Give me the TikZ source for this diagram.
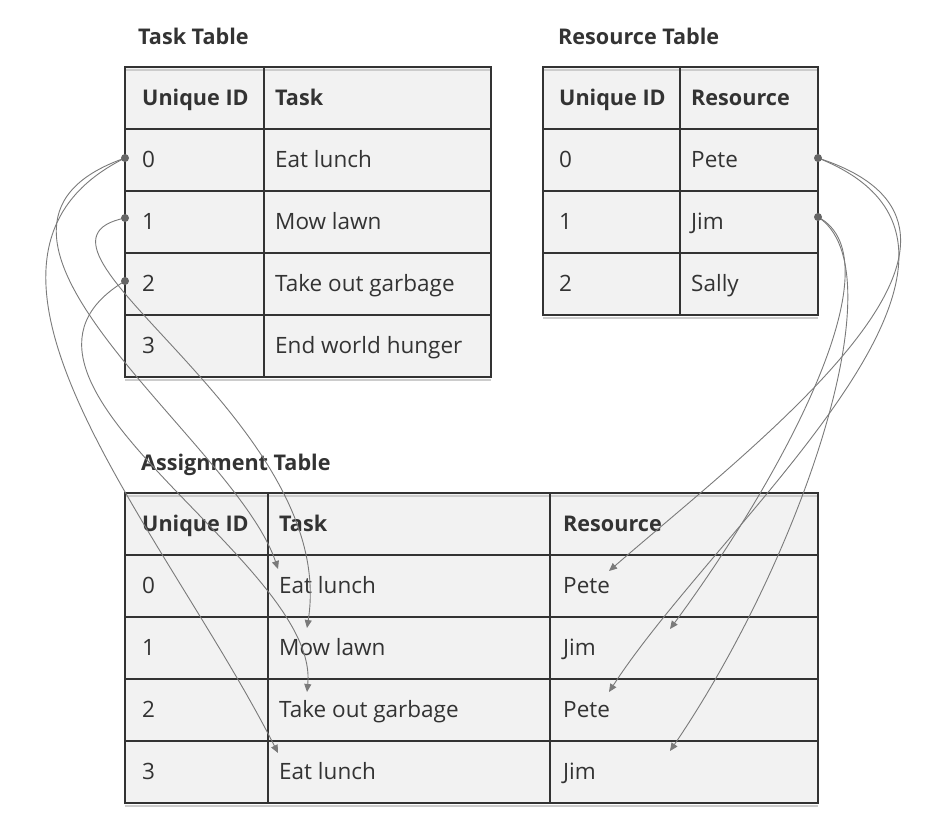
\documentclass[tikz,border=0pt]{standalone}
\usepackage{fontspec}
\setmainfont{Open Sans}
\usetikzlibrary{arrows.meta}
\definecolor{cellfill}{HTML}{F2F2F2}
\definecolor{bordc}{HTML}{333333}
\definecolor{txtc}{HTML}{333333}
\definecolor{connc}{HTML}{7A7A7A}
\definecolor{dotc}{HTML}{666666}
\definecolor{shadowc}{HTML}{CCCCCC}
\begin{document}
\begin{tikzpicture}[x=1pt,y=-1pt,
  celltxt/.style={anchor=base west, inner sep=0pt, text=txtc, font=\fontsize{22.5}{26}\selectfont},
  headtxt/.style={celltxt, font=\fontsize{21.6}{26}\selectfont\bfseries},
  conn/.style={draw=connc, line width=0.9pt, -{Triangle[length=8pt,width=7pt]}},
  frame/.style={draw=bordc, line width=2.2pt},
  rowline/.style={draw=bordc, line width=1.4pt},
  shadowline/.style={draw=shadowc, line width=2pt}]
\useasboundingbox (0,0) rectangle (945,828);

% ---------- Task table ----------
\node[headtxt] (ttitle) at (138,44) {Task Table};
\fill[cellfill] (125,67) rectangle (491,377);
\draw[shadowline] (125,69.5) -- (491,69.5);
\draw[shadowline] (125,379.5) -- (491,379.5);
\foreach \yy in {129,191,253,315} \draw[rowline] (125,\yy) -- (491,\yy);
\draw[frame] (264,67) -- (264,377);
\draw[frame] (125,67) rectangle (491,377);
\node[headtxt] (th1) at (142,105) {Unique ID};
\node[headtxt] (th2) at (275,105) {Task};
\node[celltxt] (tid0) at (142,167) {0};
\node[celltxt] (tid1) at (142,229) {1};
\node[celltxt] (tid2) at (142,291) {2};
\node[celltxt] (tid3) at (142,353) {3};
\node[celltxt] (tt0) at (275,167) {Eat lunch};
\node[celltxt] (tt1) at (275,229) {Mow lawn};
\node[celltxt] (tt2) at (275,291) {Take out garbage};
\node[celltxt] (tt3) at (275,353) {End world hunger};

% ---------- Resource table ----------
\node[headtxt] (rtitle) at (558,44) {Resource Table};
\fill[cellfill] (543,67) rectangle (818,315);
\draw[shadowline] (543,69.5) -- (818,69.5);
\draw[shadowline] (543,317.5) -- (818,317.5);
\foreach \yy in {129,191,253} \draw[rowline] (543,\yy) -- (818,\yy);
\draw[frame] (680,67) -- (680,315);
\draw[frame] (543,67) rectangle (818,315);
\node[headtxt] (rh1) at (559,105) {Unique ID};
\node[headtxt] (rh2) at (691,105) {Resource};
\node[celltxt] (rid0) at (559,167) {0};
\node[celltxt] (rid1) at (559,229) {1};
\node[celltxt] (rid2) at (559,291) {2};
\node[celltxt] (rr0) at (691,167) {Pete};
\node[celltxt] (rr1) at (691,229) {Jim};
\node[celltxt] (rr2) at (691,291) {Sally};

% ---------- Assignment table ----------
\node[headtxt] (atitle) at (141,470) {Assignment Table};
\fill[cellfill] (125,493) rectangle (818,803);
\draw[shadowline] (125,495.5) -- (818,495.5);
\draw[shadowline] (125,805.5) -- (818,805.5);
\foreach \yy in {555,617,679,741} \draw[rowline] (125,\yy) -- (818,\yy);
\draw[frame] (268,493) -- (268,803);
\draw[frame] (550,493) -- (550,803);
\draw[frame] (125,493) rectangle (818,803);
\node[headtxt] (ah1) at (142,531) {Unique ID};
\node[headtxt] (ah2) at (279,531) {Task};
\node[headtxt] (ah3) at (563,531) {Resource};
\node[celltxt] (aid0) at (142,593) {0};
\node[celltxt] (aid1) at (142,655) {1};
\node[celltxt] (aid2) at (142,717) {2};
\node[celltxt] (aid3) at (142,779) {3};
\node[celltxt] (at0) at (279,593) {Eat lunch};
\node[celltxt] (at1) at (279,655) {Mow lawn};
\node[celltxt] (at2) at (279,717) {Take out garbage};
\node[celltxt] (at3) at (279,779) {Eat lunch};
\node[celltxt] (ar0) at (563,593) {Pete};
\node[celltxt] (ar1) at (563,655) {Jim};
\node[celltxt] (ar2) at (563,717) {Pete};
\node[celltxt] (ar3) at (563,779) {Jim};

% ---------- connector end points ----------
\coordinate (td0) at (125,158);
\coordinate (td1) at (125,218);
\coordinate (td2) at (125,281);
\coordinate (rd0) at (818,158);
\coordinate (rd1) at (818,217);
\coordinate (eT0) at (278,569);
\coordinate (eT1) at (307,628);
\coordinate (eT2) at (307,692);
\coordinate (eT3) at (278,753);
\coordinate (eR0) at (609,571);
\coordinate (eR1) at (670,629);
\coordinate (eR2) at (609,692);
\coordinate (eR3) at (670,751);

% ---------- connectors ----------
\draw[conn] (td0) .. controls (-80,230) and (235,440) .. (eT0);
\draw[conn] (td0) .. controls (-80,260) and (165,530) .. (eT3);
\draw[conn] (td1) .. controls (-5,245) and (340,420) .. (eT1);
\draw[conn] (td2) .. controls (-40,380) and (320,560) .. (eT2);
\draw[conn] (rd0) .. controls (1040,230) and (760,440) .. (eR0);
\draw[conn] (rd0) .. controls (1050,250) and (720,520) .. (eR2);
\draw[conn] (rd1) .. controls (900,260) and (780,480) .. (eR1);
\draw[conn] (rd1) .. controls (900,270) and (800,560) .. (eR3);

% ---------- dots ----------
\foreach \d in {td0,td1,td2,rd0,rd1} \fill[dotc] (\d) circle (4pt);
\end{tikzpicture}
\end{document}
